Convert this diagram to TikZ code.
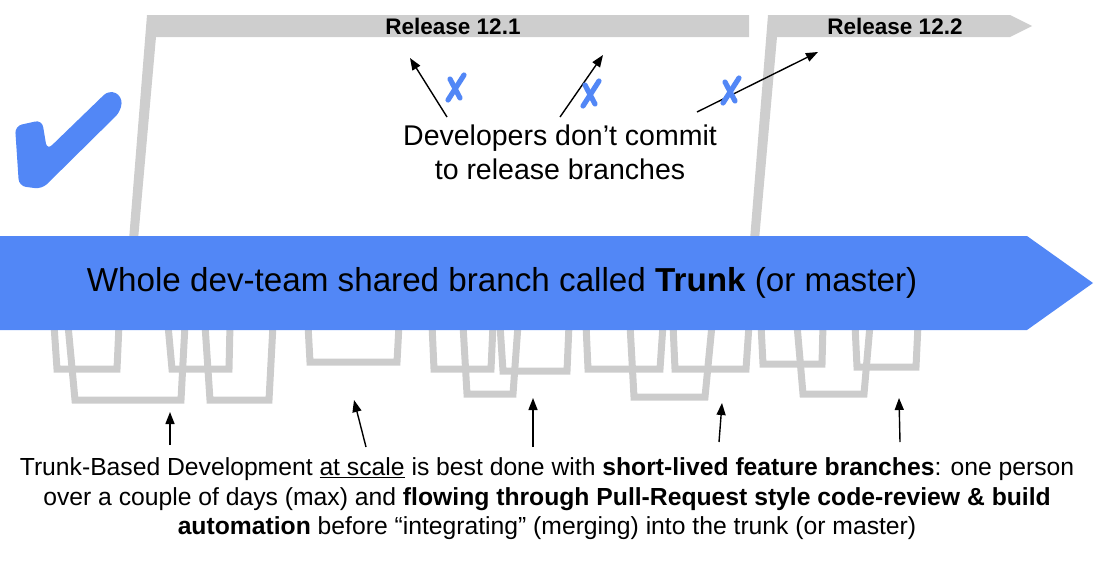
\documentclass[tikz,border=0pt]{standalone}
\usepackage{fontspec}
\setmainfont{Liberation Sans}
\usetikzlibrary{arrows.meta}
\definecolor{tblue}{RGB}{82,135,246}
\definecolor{tgray}{RGB}{204,204,204}
\definecolor{rgray}{RGB}{206,206,206}
\begin{document}
\begin{tikzpicture}[x=1pt,y=-1pt,
  fb/.style={draw=tgray,line width=7pt,line join=miter},
  relbranch/.style={fill=rgray},
  devarrow/.style={draw=black,line width=1.4pt,-{Triangle[length=12pt,width=9pt]}},
  xstroke/.style={draw=tblue,line width=5.2pt,line cap=round},
  xm/.pic={\draw[xstroke] (-8,13) -- (8,-12); \draw[xstroke] (-6,-8) -- (4,11);},
  reltext/.style={font=\fontsize{22.5}{26}\selectfont\bfseries},
]
\useasboundingbox (0,0) rectangle (1110,570);
% release branches
\fill[relbranch] (129,240) -- (147,15) -- (749,15) -- (749,37) -- (156,37) -- (138,240) -- cycle;
\fill[relbranch] (750,240) -- (768,15) -- (1010,15) -- (1032,26) -- (1010,37) -- (777,37) -- (759,240) -- cycle;
\node[reltext] (r121) at (453,26) {Release 12.1};
\node[reltext] (r122) at (895,26) {Release 12.2};
% feature branches
\draw[fb] (54,325) -- (57,369) -- (117,369) -- (119,325);
\draw[fb] (68,325) -- (75,400) -- (181,400) -- (185,325);
\draw[fb] (168,325) -- (172,369) -- (229,369) -- (230,325);
\draw[fb] (205,325) -- (210,400) -- (269,400) -- (273,325);
\draw[fb] (308,325) -- (310,362) -- (397,362) -- (399,325);
\draw[fb] (432,325) -- (434,369) -- (491,369) -- (493,325);
\draw[fb] (463,325) -- (467,394) -- (513,394) -- (518,325);
\draw[fb] (500,325) -- (503,371) -- (567,371) -- (569,325);
\draw[fb] (586,325) -- (588,369) -- (660,369) -- (663,325);
\draw[fb] (630,325) -- (634,397) -- (705,397) -- (712,325);
\draw[fb] (673,325) -- (675,369) -- (746,369) -- (749,325);
\draw[fb] (761,325) -- (763,364) -- (822,364) -- (823,325);
\draw[fb] (797,325) -- (803,394) -- (864,394) -- (870,325);
\draw[fb] (855,325) -- (857,367) -- (916,367) -- (918,325);
% trunk
\fill[tblue] (0,236) -- (1027,236) -- (1093,283) -- (1027,330) -- (0,330) -- cycle;
\node[font=\fontsize{33.2}{38}\selectfont] (trunk) at (502,283) {Whole dev-team shared branch called \textbf{Trunk} (or master)};
% check mark
\fill[tblue,rounded corners=7pt] (15,126) -- (42,120) -- (47,150) -- (109,90) -- (122,96) -- (121,111) -- (42,189) -- (19,186) -- cycle;
% release note
\node[font=\fontsize{28.5}{34}\selectfont,align=center] (dev) at (560,152) {Developers don’t commit\\to release branches};
\coordinate (t1) at (447,117); \coordinate (h1) at (410,58);
\coordinate (t2) at (560,117); \coordinate (h2) at (603,55);
\coordinate (t3) at (697,112); \coordinate (h3) at (818,52);
\draw[devarrow] (t1) -- (h1);
\draw[devarrow] (t2) -- (h2);
\draw[devarrow] (t3) -- (h3);
\pic at (456,87) {xm};
\pic at (591,93) {xm};
\pic at (731,90) {xm};
% bottom note
\node[font=\fontsize{24.7}{29.5}\selectfont,align=center] (note) at (547,499) {Trunk-Based Development \underline{at scale} is best done with \textbf{short-lived feature branches}: one person\\over a couple of days (max) and \textbf{flowing through Pull-Request style code-review \& build}\\\textbf{automation} before “integrating” (merging) into the trunk (or master)};
\coordinate (b1) at (170,445); \coordinate (u1) at (170,412);
\coordinate (b2) at (366,447); \coordinate (u2) at (354,400);
\coordinate (b3) at (533,447); \coordinate (u3) at (533,398);
\coordinate (b4) at (719,442); \coordinate (u4) at (722,403);
\coordinate (b5) at (900,442); \coordinate (u5) at (899,398);
\foreach \i in {1,...,5} {\draw[devarrow] (b\i) -- (u\i);}
\end{tikzpicture}
\end{document}
